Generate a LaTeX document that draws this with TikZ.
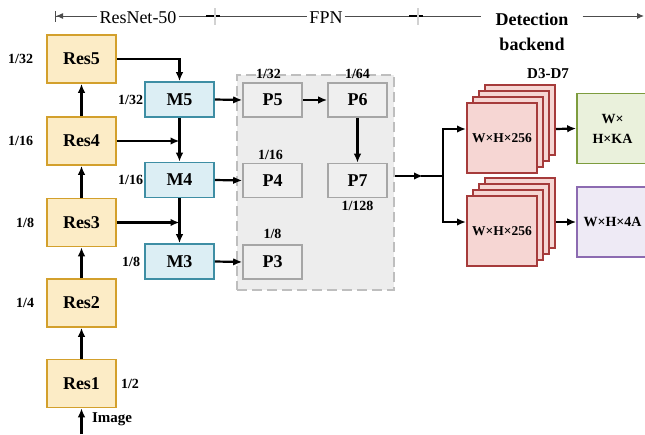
\documentclass[tikz,border=0pt]{standalone}
\usepackage{fontspec}
\setmainfont{Liberation Serif}
\usepackage{tikz}
\usetikzlibrary{positioning,fit,backgrounds,arrows.meta,calc}

\definecolor{resfill}{HTML}{FCECC6}
\definecolor{resline}{HTML}{D3A02C}
\definecolor{mfill}{HTML}{DCEEF4}
\definecolor{mline}{HTML}{3E8EA4}
\definecolor{pfill}{HTML}{EFEFEF}
\definecolor{pline}{HTML}{A6A6A6}
\definecolor{fpnfill}{HTML}{EDEDED}
\definecolor{fpnline}{HTML}{BEBEBE}
\definecolor{featfill}{HTML}{F6D6D3}
\definecolor{featline}{HTML}{A63B3B}
\definecolor{clsfill}{HTML}{EAF1DC}
\definecolor{clsline}{HTML}{7D9C3E}
\definecolor{regfill}{HTML}{EEEAF5}
\definecolor{regline}{HTML}{8C6BB1}

\begin{document}
\begin{tikzpicture}[
  x=1pt, y=-1pt,
  font=\bfseries\fontsize{18}{20}\selectfont,
  box/.style={draw, line width=1.6pt, align=center, inner sep=0pt},
  res/.style={box, draw=resline, fill=resfill, minimum width=69pt, minimum height=48pt},
  merge/.style={box, draw=mline, fill=mfill, minimum width=69pt, minimum height=35pt},
  pyr/.style={box, draw=pline, fill=pfill, minimum width=59pt, minimum height=34pt},
  feat/.style={box, draw=featline, fill=featfill, minimum width=70pt, minimum height=70pt,
    font=\bfseries\fontsize{13.5}{15}\selectfont},
  headout/.style={box, minimum width=71pt, minimum height=70pt,
    font=\bfseries\fontsize{14}{20}\selectfont},
  ratio/.style={inner sep=1pt, font=\bfseries\fontsize{14}{16}\selectfont},
  hdr/.style={inner sep=2pt, fill=white, align=center, font=\fontsize{18}{25}\selectfont},
  hline/.style={line width=1pt, gray!60!black},
  arr/.style={-{Latex[length=9pt,width=7.5pt]}, line width=2.2pt},
]
\clip (0,0) rectangle (645,434);
\useasboundingbox (0,0) rectangle (645,434);

% header: stage ruler
\coordinate (hdrL) at (55,16);
\coordinate (hdrR) at (644,16);
\coordinate (sepA) at (215,16);
\coordinate (sepB) at (418,16);
\node[hdr] (hdrRes) at (138,18) {ResNet-50};
\node[hdr] (hdrFPN) at (326,18) {FPN};
\node[hdr, font=\bfseries\fontsize{18}{25}\selectfont, inner sep=14pt, fill=none] (hdrDet) at (532,32) {Detection\\backend};
\draw[hline, {Bar[width=11pt]Latex[length=7pt,width=6pt]}-] (hdrL) -- (hdrRes.west |- hdrL);
\draw[hline] (hdrRes.east |- hdrL) -- (hdrFPN.west |- hdrL);
\draw[hline] (hdrFPN.east |- hdrL) -- (hdrDet.west |- hdrL);
\draw[hline, -{Latex[length=7pt,width=6pt]}] (hdrDet.east |- hdrL) -- (hdrR);
\foreach \s in {sepA,sepB}{
  \draw[line width=2.5pt, black] ($(\s)+(-9,0)$) -- ($(\s)+(5,0)$);
  \draw[gray!35, line width=1.2pt] ($(\s)+(0,-8)$) -- ($(\s)+(0,9)$);
}

% backbone
\node[res] (res1) at (81.5,383.5) {Res1};
\node[res] (res2) at (81.5,303) {Res2};
\node[res] (res3) at (81.5,222.5) {Res3};
\node[res] (res4) at (81.5,141) {Res4};
\node[res] (res5) at (81.5,59) {Res5};
\coordinate (imgin) at (81.5,434);
\node[ratio, font=\bfseries\fontsize{15}{16}\selectfont] (imglab) at (112,419) {Image};
\draw[arr] (imgin) -- (res1.south);
\draw[arr] (res1) -- (res2); \draw[arr] (res2) -- (res3);
\draw[arr] (res3) -- (res4); \draw[arr] (res4) -- (res5);
\node[ratio, left=12pt of res5] (r5) {1/32};
\node[ratio, left=12pt of res4] (r4) {1/16};
\node[ratio, left=11pt of res3] (r3) {1/8};
\node[ratio, left=11pt of res2] (r2) {1/4};
\node[ratio, right=3pt of res1] (r1) {1/2};

% lateral merges
\node[merge] (m5) at (179.5,99.5) {M5};
\node[merge] (m4) at (179.5,180) {M4};
\node[merge] (m3) at (179.5,261.5) {M3};
\node[ratio, left=0pt of m5] {1/32};
\node[ratio, left=0pt of m4] {1/16};
\node[ratio, left=3pt of m3] {1/8};
\draw[arr] (res5.east) -| (m5.north);
\draw[arr] (res4.east) -- (res4.east -| m5.south);
\draw[arr] (res3.east) -- (res3.east -| m4.south);
\draw[arr] (m5) -- (m4); \draw[arr] (m4) -- (m3);

% pyramid levels
\node[draw=fpnline, fill=fpnfill, dashed, dash pattern=on 10pt off 5pt, line width=2.5pt,
      minimum width=157pt, minimum height=215pt] (fpn) at (315.5,182.5) {};
\node[pyr] (p5) at (272.5,100) {P5};
\node[pyr] (p6) at (357.5,100) {P6};
\node[pyr] (p4) at (272.5,180.5) {P4};
\node[pyr] (p7) at (357.5,180.5) {P7};
\node[pyr] (p3) at (272.5,262) {P3};
\node[ratio, above=2pt of p5, xshift=-4pt] {1/32};
\node[ratio, above=2pt of p6] {1/64};
\node[ratio, above=2pt of p4, xshift=-2pt] {1/16};
\node[ratio, above=4pt of p3] {1/8};
\node[ratio, below=2pt of p7] {1/128};
\draw[arr] (m5.east) -- (p5.west);
\draw[arr] (m4.east) -- (p4.west);
\draw[arr] (m3.east) -- (p3.west);
\draw[arr] (p5) -- (p6); \draw[arr] (p6) -- (p7);

% detection heads
\coordinate (split) at (443,176);
\coordinate (cA) at (502,138);
\coordinate (cB) at (502,231);
\foreach \k in {3,2,1}{
  \node[feat] (stA\k) at ($(cA)+(6*\k,-6*\k)$) {};
  \node[feat] (stB\k) at ($(cB)+(6*\k,-6*\k)$) {};
}
\node[feat] (stA) at (cA) {W×H×256};
\node[feat] (stB) at (cB) {W×H×256};
\node[fit=(stA)(stA3), inner sep=0pt] (stackA) {};
\node[fit=(stB)(stB3), inner sep=0pt] (stackB) {};
\node[ratio, font=\bfseries\fontsize{15}{16}\selectfont] at (548,74) {D3-D7};
\node[headout, draw=clsline, fill=clsfill] (cls) at (612.5,128.5) {W×\\H×KA};
\node[headout, draw=regline, fill=regfill] (reg) at (612.5,222) {W×H×4A};

\draw[arr] (fpn.east |- split) -- ($(split)+(-20,0)$);
\draw[line width=2.2pt] ($(split)+(-22,0)$) -- (split);
\draw[arr] (split) |- (stackA.west);
\draw[arr] (split) |- (stackB.west);
\draw[arr] (stackA.east) -- (cls.west);
\draw[arr] (stackB.east) -- (reg.west);
\end{tikzpicture}
\end{document}
